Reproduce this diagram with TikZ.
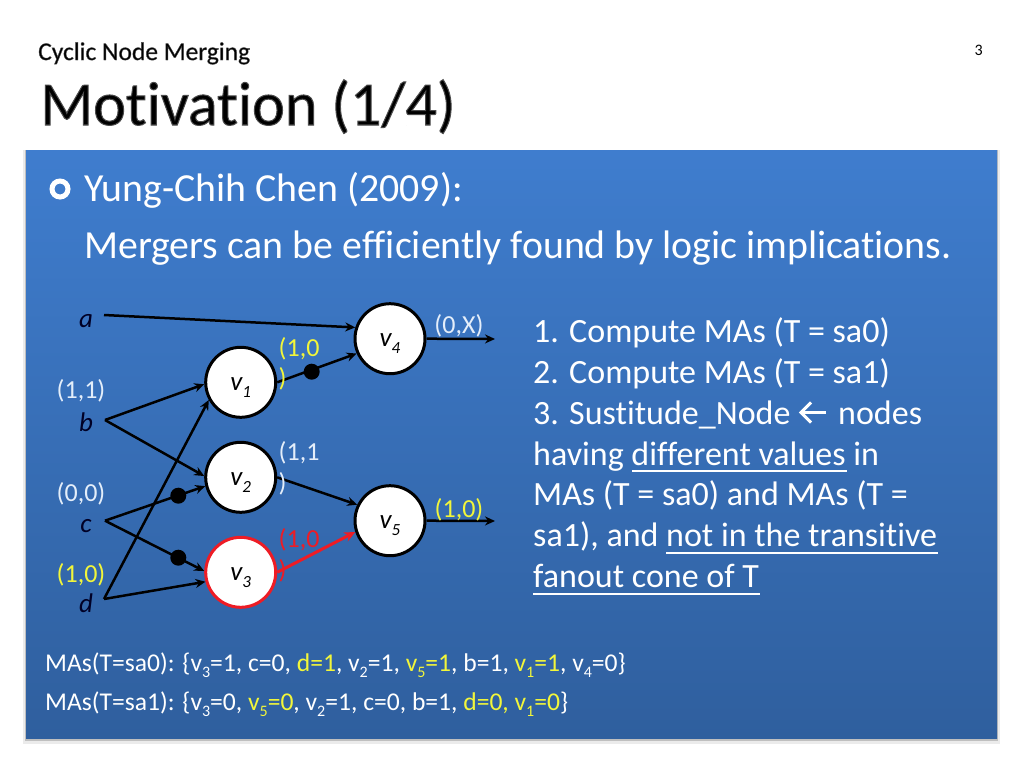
\documentclass[tikz,border=0pt]{standalone}
\usepackage{fontspec}
\setmainfont[Ligatures={NoCommon,TeX}]{Carlito}
\usetikzlibrary{arrows.meta}
\definecolor{paneltop}{HTML}{3F7DCE}
\definecolor{panelbot}{HTML}{2F5F9E}
\definecolor{lab}{HTML}{E4EEFA}
\definecolor{hi}{HTML}{F2F63A}
\definecolor{redd}{HTML}{EE1C25}
\newcommand{\halo}[2]{\leavevmode\special{pdf:code q 2 Tr #1 w 0.3 G}#2\special{pdf:code Q}}
\newcommand{\yy}[1]{\textcolor{hi}{#1}}
\newcommand{\sub}[2][16]{\raisebox{-0.25em}{\fontsize{#1}{#1}\selectfont #2}}
\newcommand{\vlab}[1]{v\sub[17]{#1}}
\tikzset{
  x=1pt,y=-1pt,
  gate/.style={circle,draw=black,fill=white,line width=3pt,minimum size=70pt,inner sep=0pt,text height=16pt,text depth=0pt,font=\fontsize{27}{27}\selectfont\itshape},
  redgate/.style={gate,draw=redd},
  wire/.style={draw=black,line width=2.5pt,-{Stealth[length=10pt,width=9pt]}},
  redwire/.style={wire,draw=redd,line width=3pt,-{Stealth[length=11pt,width=10pt]}},
  blob/.style={circle,fill=black,minimum size=16pt,inner sep=0pt},
  inp/.style={text=black!85!blue,font=\fontsize{27}{27}\selectfont\itshape,inner sep=0pt,anchor=base},
  val/.style={font=\fontsize{26}{26}\selectfont,inner sep=0pt,text=lab,anchor=base},
  lval/.style={val,anchor=base west},
  body/.style={anchor=base west,inner sep=0pt,text=white,font=\fontsize{34}{34}\selectfont},
  big/.style={anchor=base west,inner sep=0pt,text=white,font=\fontsize{39.8}{39.8}\selectfont},
  mas/.style={anchor=base west,inner sep=0pt,text=white,font=\fontsize{25.6}{25.6}\selectfont},
  rule/.style={draw=white,line width=1.3pt},
  chev/.style={draw=white,line width=3pt}
}
\begin{document}
\begin{tikzpicture}
\useasboundingbox (0,0) rectangle (1024,768);
\fill[white] (0,0) rectangle (1024,768);
% panel
\fill[black!8] (23,150) rectangle (1000,744);
\fill[black!25] (25,150) rectangle (998,741);
\shade[top color=paneltop,bottom color=panelbot] (26,150) rectangle (997,738);
% titles
\node[anchor=base west,inner sep=0pt,font=\fontsize{25.5}{25.5}\selectfont] (sub) at (38,60) {\halo{0.4}{Cyclic Node Merging}};
\node[anchor=base west,inner sep=0pt,font=\fontsize{62}{62}\selectfont] (title) at (40,125) {\halo{1}{Motivation (1/4)}};
\node[anchor=base east,inner sep=0pt,font=\fontsize{16}{16}\selectfont] (page) at (983,56) {3};
% bullet
\node[circle,draw=white,line width=5pt,minimum size=16pt,inner sep=0pt] (bullet) at (60,189) {};
\node[big] (l1) at (84,201.5) {Yung-Chih Chen (2009):};
\node[big] (l2) at (84,258.5) {Mergers can be efficiently found by logic implications.};
% gates
\node[gate] (v1) at (240.7,382.3) {\vlab{1}};
\node[gate] (v2) at (240.7,477.3) {\vlab{2}};
\node[redgate] (v3) at (240.7,572.3) {\vlab{3}};
\node[gate] (v4) at (390,338.7) {\vlab{4}};
\node[gate] (v5) at (390,520.7) {\vlab{5}};
% inputs
\node[inp] (a) at (86,327) {a};
\node[inp] (b) at (86,431) {b};
\node[inp] (c) at (86,532) {c};
\node[inp] (d) at (86,612) {d};
\coordinate (ao) at (104,315);
\coordinate (bo) at (105,420);
\coordinate (co) at (105,520.7);
\coordinate (do) at (104,599);
\coordinate (o4) at (495,339);
\coordinate (o5) at (495,521);
% wires
\draw[wire] (ao) -- (v4.162);
\draw[wire] (bo) -- (v1.183);
\draw[wire] (bo) -- (v2.178);
\draw[wire] (co) -- (v2.194);
\draw[wire] (co) -- (v3.178);
\draw[wire] (do) -- (v3.195);
\draw[wire] (do) -- (v1.209);
\draw[wire] (v1.east) -- (v4.204);
\draw[wire] (v2.east) -- (v5.154);
\draw[redwire] (v3.east) -- (v5.198);
\draw[wire] (v4.east) -- (o4);
\draw[wire] (v5.east) -- (o5);
% blobs
\node[blob] (p1) at (311.7,371.7) {};
\node[blob] (p2) at (178.3,495.7) {};
\node[blob] (p3) at (178.3,557.7) {};
% values
\node[val] (vb) at (81,398) {(1,1)};
\node[val] (vc) at (81,501.7) {(0,0)};
\node[val,text=hi] (vd) at (81,582.7) {(1,0)};
\node[val] (v4o) at (459,333) {(0,X)};
\node[val,text=hi] (v5o) at (459,517.7) {(1,0)};
\node[lval,text=hi] (w1a) at (278.5,356) {(1,0};
\node[lval,text=hi] (w1b) at (278.5,386) {)};
\node[lval] (w2a) at (278.5,460) {(1,1};
\node[lval] (w2b) at (278.5,491) {)};
\node[lval,text=redd] (w3a) at (278.5,547) {(1,0};
\node[lval,text=redd] (w3b) at (278.5,578) {)};
% list
\node[body] (t1) at (533,342) {1. Compute MAs (T = sa0)};
\node[body] (t2) at (533,383) {2. Compute MAs (T = sa1)};
\node[body] (t3) at (533,424) {3. Sustitude\_Node};
\node[body] (t3b) at (838,424) {nodes};
\node[body] (t4) at (533,465) {having different values in};
\node[body] (t5) at (533,505.5) {MAs (T = sa0) and MAs (T =};
\node[body] (t6) at (533,546.5) {sa1), and not in the transitive};
\node[body] (t7) at (533,587.5) {fanout cone of T};
\coordinate (ca) at (826,412.5); \coordinate (cb) at (801,412.5);
\coordinate (cc) at (811,402.5); \coordinate (cd) at (811,422.5);
\draw[chev] (ca) -- (cb);
\draw[chev,line join=miter] (cc) -- (cb) -- (cd);
\coordinate (r1a) at (632,471); \coordinate (r1b) at (847,471);
\coordinate (r2a) at (666,553); \coordinate (r2b) at (938,553);
\coordinate (r3a) at (533,594); \coordinate (r3b) at (760,594);
\draw[rule] (r1a) -- (r1b);
\draw[rule] (r2a) -- (r2b);
\draw[rule] (r3a) -- (r3b);
% MAs
\node[mas] (m1) at (45,671) {MAs(T=sa0): \{v\sub{3}=1, c=0, \yy{d=1}, v\sub{2}=1, \yy{v\sub{5}=1}, b=1, \yy{v\sub{1}=1}, v\sub{4}=0\}};
\node[mas] (m2) at (45,710) {MAs(T=sa1): \{v\sub{3}=0, \yy{v\sub{5}=0}, v\sub{2}=1, c=0, b=1, \yy{d=0, v\sub{1}=0}\}};
\end{tikzpicture}
\end{document}
